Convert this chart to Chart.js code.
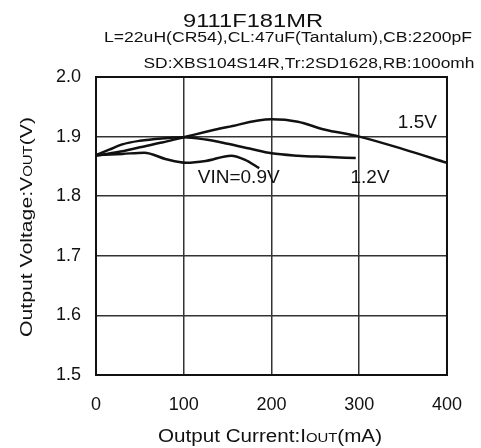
<!DOCTYPE html>
<html>
<head>
<meta charset="utf-8">
<script src="https://cdn.jsdelivr.net/npm/chart.js@4/dist/chart.umd.min.js"></script>
<style>
  html, body { margin: 0; padding: 0; background: #fff; }
  #wrap { width: 481px; height: 448px; position: relative; }
</style>
</head>
<body>
<div id="wrap"><canvas id="c" width="481" height="448"></canvas></div>
<script>
// Output voltage vs. output current for three input voltages
const currentVin09 = [0, 30, 55, 80, 103, 125, 154, 170, 186];
const voutVin09    = [1.869, 1.871, 1.873, 1.862, 1.856, 1.859, 1.868, 1.861, 1.847];

const currentVin12 = [0, 15, 30, 50, 75, 100, 125, 150, 175, 200, 230, 260, 296];
const voutVin12    = [1.869, 1.878, 1.887, 1.893, 1.897, 1.899, 1.895, 1.888, 1.880, 1.872, 1.868, 1.866, 1.864];

const currentVin15 = [0, 25, 50, 75, 100, 150, 200, 230, 260, 300, 350, 400];
const voutVin15    = [1.868, 1.874, 1.882, 1.890, 1.899, 1.916, 1.929, 1.925, 1.912, 1.900, 1.879, 1.856];

const xTicks = [0, 100, 200, 300, 400];
const yTicks = [1.5, 1.6, 1.7, 1.8, 1.9, 2.0];

const titleLines = [
  "9111F181MR",
  "L=22uH(CR54),CL:47uF(Tantalum),CB:2200pF",
  "SD:XBS104S14R,Tr:2SD1628,RB:100omh"
];

// Curve labels, placed in data coordinates
const curveLabels = [
  { text: "1.5V",     x: 344, y: 1.923 },
  { text: "VIN=0.9V", x: 116, y: 1.8305 },
  { text: "1.2V",     x: 290, y: 1.8305 }
];

const FONT = '"Liberation Sans", Arial, sans-serif';

function toPoints(xs, ys) { return xs.map((x, i) => ({ x: x, y: ys[i] })); }

// Draws a run of text segments (mixed font sizes) centred at cx, cy,
// stretched horizontally to the given width.
function drawRich(ctx, segs, cx, cy, width) {
  let total = 0;
  segs.forEach(s => { ctx.font = s.font; s.w = ctx.measureText(s.text).width; total += s.w; });
  const k = width ? width / total : 1;
  ctx.save();
  ctx.translate(cx, cy);
  ctx.scale(k, 1);
  let x = -total / 2;
  ctx.textBaseline = 'alphabetic';
  ctx.textAlign = 'left';
  segs.forEach(s => {
    ctx.font = s.font;
    ctx.fillText(s.text, x, s.dy || 0);
    x += s.w;
  });
  ctx.restore();
}

const decor = {
  id: 'decor',
  afterDraw(chart) {
    const ctx = chart.ctx;
    const a = chart.chartArea;
    const xs = chart.scales.x, ys = chart.scales.y;
    ctx.save();
    // plot frame
    ctx.strokeStyle = '#111';
    ctx.lineWidth = 2;
    ctx.strokeRect(a.left, a.top, a.right - a.left, a.bottom - a.top);

    ctx.fillStyle = '#111';
    // heading lines
    drawRich(ctx, [{ text: titleLines[0], font: '18px ' + FONT }], 253, 27, 140);
    drawRich(ctx, [{ text: titleLines[1], font: '14px ' + FONT }], 288, 42, 368);
    drawRich(ctx, [{ text: titleLines[2], font: '14px ' + FONT }], 309, 68, 331);

    // curve labels
    ctx.font = '19px ' + FONT;
    ctx.textAlign = 'left';
    ctx.textBaseline = 'middle';
    curveLabels.forEach(l => {
      ctx.fillText(l.text, xs.getPixelForValue(l.x), ys.getPixelForValue(l.y));
    });

    // x axis title
    drawRich(ctx, [
      { text: 'Output Current:I', font: '18px ' + FONT },
      { text: 'OUT', font: '13px ' + FONT },
      { text: '(mA)', font: '18px ' + FONT }
    ], 270, 442, 224);

    // y axis title (rotated)
    ctx.save();
    ctx.translate(32, 227);
    ctx.rotate(-Math.PI / 2);
    drawRich(ctx, [
      { text: 'Output Voltage:V', font: '17px ' + FONT },
      { text: 'OUT', font: '12px ' + FONT },
      { text: '(V)', font: '17px ' + FONT }
    ], 0, 0, 220);
    ctx.restore();
    ctx.restore();
  }
};

const lineStyle = {
  borderColor: '#111',
  borderWidth: 2.5,
  pointRadius: 0,
  fill: false,
  showLine: true,
  cubicInterpolationMode: 'monotone'
};

new Chart(document.getElementById('c'), {
  type: 'scatter',
  data: {
    datasets: [
      Object.assign({ label: 'VIN=0.9V', data: toPoints(currentVin09, voutVin09) }, lineStyle),
      Object.assign({ label: '1.2V', data: toPoints(currentVin12, voutVin12) }, lineStyle),
      Object.assign({ label: '1.5V', data: toPoints(currentVin15, voutVin15) }, lineStyle)
    ]
  },
  options: {
    responsive: false,
    animation: false,
    devicePixelRatio: 1,
    layout: { padding: { top: 77, right: 32, bottom: 0, left: 0 } },
    plugins: { legend: { display: false }, tooltip: { enabled: false }, title: { display: false } },
    scales: {
      x: {
        type: 'linear',
        min: 0, max: 400,
        afterFit(s) { s.height = 73; },
        afterBuildTicks(s) { s.ticks = xTicks.map(v => ({ value: v })); },
        grid: { color: '#333', lineWidth: 1.5, drawTicks: false },
        border: { display: false },
        ticks: { padding: 19, color: '#111', font: { family: FONT, size: 18 }, maxRotation: 0 }
      },
      y: {
        type: 'linear',
        min: 1.5, max: 2.0,
        afterFit(s) { s.width = 96; },
        afterBuildTicks(s) { s.ticks = yTicks.map(v => ({ value: v })); },
        grid: { color: '#333', lineWidth: 1.5, drawTicks: false },
        border: { display: false },
        ticks: { padding: 15, color: '#111', font: { family: FONT, size: 18 },
                 callback: v => v.toFixed(1) }
      }
    }
  },
  plugins: [decor]
});
</script>
</body>
</html>
